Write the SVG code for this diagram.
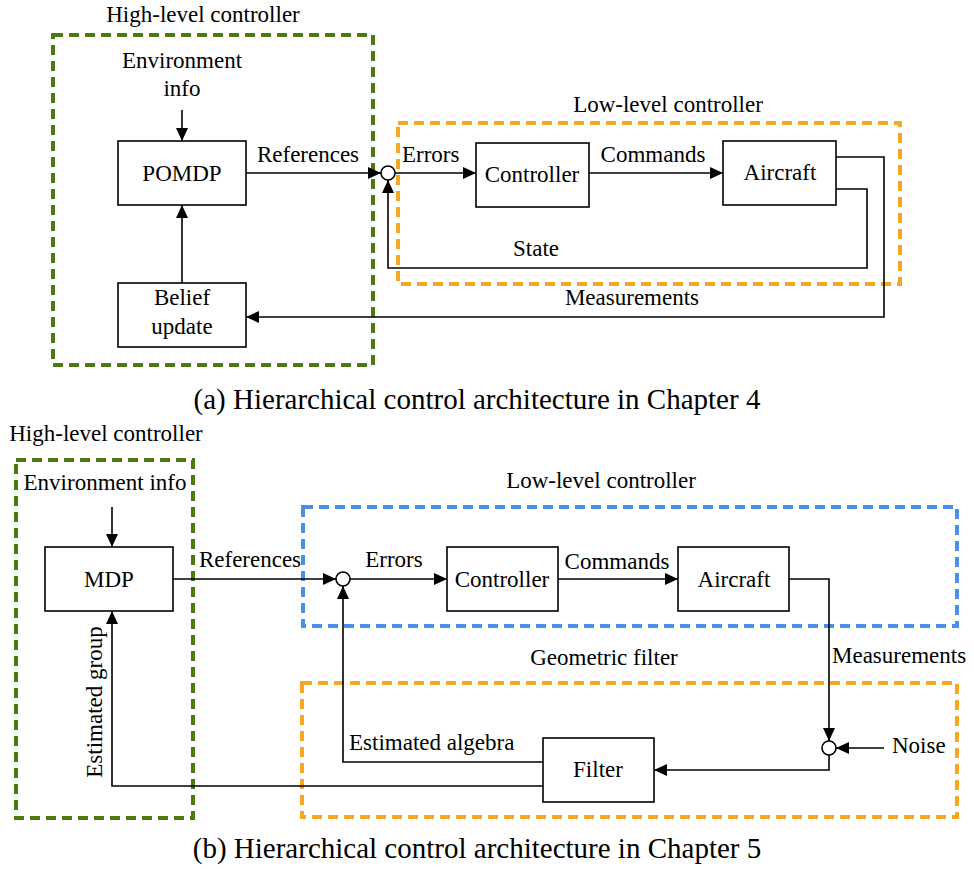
<svg xmlns="http://www.w3.org/2000/svg" width="974" height="869" viewBox="0 0 974 869">
  <style>
    text { font-family: "Liberation Serif", "Times New Roman", serif; font-size: 23px; fill: #000; }
    .c { text-anchor: middle; }
    .cap { font-size: 29px; text-anchor: middle; }
    .blk { fill: #fff; stroke: #000; stroke-width: 1.6; }
    .sum { fill: #fff; stroke: #000; stroke-width: 1.6; }
    .wire { fill: none; stroke: #000; stroke-width: 1.6; }
    .arr { marker-end: url(#tip); }
    .grp { fill: none; stroke-width: 4; stroke-dasharray: 10 6; }
    .green { stroke: #4a7a0e; }
    .orange { stroke: #f5a623; }
    .blue { stroke: #4a90e2; }
  </style>
  <defs>
    <marker id="tip" markerUnits="userSpaceOnUse" markerWidth="14" markerHeight="12" refX="13" refY="6" orient="auto">
      <path d="M0,0 L13,6 L0,12 Z" fill="#000"/>
    </marker>
  </defs>
  <rect width="974" height="869" fill="#fff"/>

  <!-- ===== (a) Chapter 4 architecture ===== -->
  <g id="a-high-level">
    <rect class="grp green" x="53" y="35" width="320" height="330"/>
    <text class="c" x="203" y="22">High-level controller</text>
  </g>
  <g id="a-low-level">
    <rect class="grp orange" x="398" y="123" width="502" height="161"/>
    <text class="c" x="668" y="112">Low-level controller</text>
  </g>
  <g id="a-env">
    <text class="c" x="182" y="68">Environment</text>
    <text class="c" x="182" y="96">info</text>
  </g>
  <g id="a-pomdp">
    <rect class="blk" x="118" y="141" width="128" height="64"/>
    <text class="c" x="182" y="181">POMDP</text>
  </g>
  <g id="a-belief">
    <rect class="blk" x="118" y="283" width="128" height="64"/>
    <text class="c" x="182" y="305">Belief</text>
    <text class="c" x="182" y="334">update</text>
  </g>
  <g id="a-sum">
    <circle class="sum" cx="388" cy="173" r="7"/>
  </g>
  <g id="a-controller">
    <rect class="blk" x="476" y="143" width="113" height="64"/>
    <text class="c" x="532" y="182">Controller</text>
  </g>
  <g id="a-aircraft">
    <rect class="blk" x="723" y="141" width="113" height="64"/>
    <text class="c" x="780" y="180">Aircraft</text>
  </g>
  <g id="a-connectors">
    <path class="wire arr" d="M182,110 V141"/>
    <path class="wire arr" d="M182,283 V205"/>
    <path class="wire arr" d="M246,173 H381"/>
    <path class="wire arr" d="M395,173 H476"/>
    <path class="wire arr" d="M589,173 H723"/>
    <path class="wire arr" d="M836,189 H867 V268 H388 V180"/>
    <path class="wire arr" d="M836,157 H884 V317 H246"/>
    <text class="c" x="308" y="162">References</text>
    <text x="402" y="162">Errors</text>
    <text class="c" x="653" y="162">Commands</text>
    <text class="c" x="536" y="256">State</text>
    <text class="c" x="632" y="305">Measurements</text>
  </g>
  <text class="cap" x="477" y="409">(a) Hierarchical control architecture in Chapter 4</text>

  <!-- ===== (b) Chapter 5 architecture ===== -->
  <g id="b-high-level">
    <rect class="grp green" x="16" y="460" width="177" height="358"/>
    <text class="c" x="106" y="441">High-level controller</text>
  </g>
  <g id="b-low-level">
    <rect class="grp blue" x="303" y="507" width="654" height="119"/>
    <text class="c" x="601" y="488">Low-level controller</text>
  </g>
  <g id="b-geometric-filter">
    <rect class="grp orange" x="302" y="683" width="655" height="134"/>
    <text class="c" x="604" y="665">Geometric filter</text>
  </g>
  <g id="b-env">
    <text class="c" x="105" y="490">Environment info</text>
  </g>
  <g id="b-mdp">
    <rect class="blk" x="45" y="547" width="128" height="64"/>
    <text class="c" x="109" y="587">MDP</text>
  </g>
  <g id="b-sum1">
    <circle class="sum" cx="343" cy="579" r="7"/>
  </g>
  <g id="b-controller">
    <rect class="blk" x="447" y="547" width="111" height="64"/>
    <text class="c" x="502" y="587">Controller</text>
  </g>
  <g id="b-aircraft">
    <rect class="blk" x="678" y="547" width="111" height="64"/>
    <text class="c" x="734" y="587">Aircraft</text>
  </g>
  <g id="b-sum2">
    <circle class="sum" cx="829" cy="748" r="7"/>
  </g>
  <g id="b-noise">
    <text x="892" y="753">Noise</text>
  </g>
  <g id="b-filter">
    <rect class="blk" x="543" y="738" width="111" height="64"/>
    <text class="c" x="598" y="777">Filter</text>
  </g>
  <g id="b-connectors">
    <path class="wire arr" d="M112,507 V547"/>
    <path class="wire arr" d="M173,579 H336"/>
    <path class="wire arr" d="M350,579 H447"/>
    <path class="wire arr" d="M558,579 H678"/>
    <path class="wire arr" d="M789,579 H829 V741"/>
    <path class="wire arr" d="M884,748 H836"/>
    <path class="wire arr" d="M829,755 V770 H654"/>
    <path class="wire arr" d="M543,762 H343 V586"/>
    <path class="wire arr" d="M543,786 H112 V611"/>
    <text class="c" x="250" y="567">References</text>
    <text class="c" x="394" y="567">Errors</text>
    <text class="c" x="617" y="569">Commands</text>
    <text x="832" y="663">Measurements</text>
    <text x="349" y="750">Estimated algebra</text>
    <text class="c" transform="translate(102,702) rotate(-90)">Estimated group</text>
  </g>
  <text class="cap" x="477" y="858">(b) Hierarchical control architecture in Chapter 5</text>
</svg>
